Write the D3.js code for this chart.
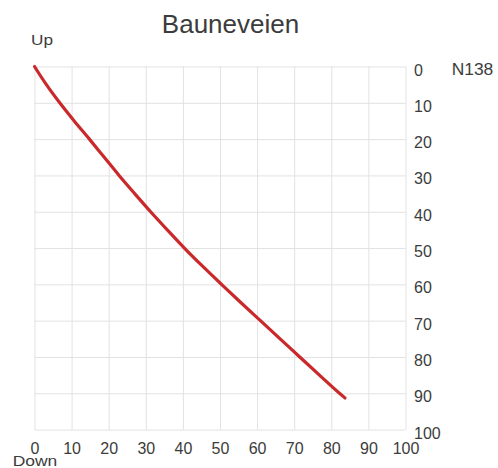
<!DOCTYPE html>
<html>
<head>
<meta charset="utf-8">
<script src="https://cdn.jsdelivr.net/npm/d3@7"></script>
<style>
  html, body { margin: 0; padding: 0; background: #ffffff; }
  svg { display: block; }
  text { font-family: "Liberation Sans", Arial, sans-serif; fill: #3c3c3c; }
</style>
</head>
<body>
<svg id="chart" width="498" height="468"></svg>
<script>
// ---- data ----
const title = "Bauneveien";
const depth = [0, 5, 10, 15, 20, 25, 30, 35, 40, 45, 50, 55, 60, 65, 70, 75, 80, 85, 90, 91.3];
const displacement = [0, 3.2, 6.8, 10.7, 14.8, 18.8, 22.8, 27, 31.3, 35.8, 40.4, 45.3, 50.4, 55.6, 60.9, 66.2, 71.5, 76.8, 82.2, 83.7];
const xTicks = [0, 10, 20, 30, 40, 50, 60, 70, 80, 90, 100];
const yTicks = [0, 10, 20, 30, 40, 50, 60, 70, 80, 90, 100];
const topLabel = "Up";
const bottomLabel = "Down";
const seriesName = "N138";

// ---- layout ----
const svg = d3.select("#chart");
const plotLeft = 34.5, plotRight = 405.5, plotTop = 66.5, plotBottom = 429.6;
const x = d3.scaleLinear().domain([0, 100]).range([plotLeft, plotRight]);
const y = d3.scaleLinear().domain([0, 100]).range([plotTop, plotBottom]);

// grid
const grid = svg.append("g");
grid.append("g")
  .attr("transform", `translate(0,${plotBottom})`)
  .call(d3.axisBottom(x).tickValues(xTicks).tickSize(-(plotBottom - plotTop)).tickFormat(""))
  .call(g => g.select(".domain").remove())
  .call(g => g.selectAll("line").attr("stroke", "#e2e2e2").attr("stroke-width", 1));
grid.append("g")
  .attr("transform", `translate(${plotLeft},0)`)
  .call(d3.axisLeft(y).tickValues(yTicks).tickSize(-(plotRight - plotLeft)).tickFormat(""))
  .call(g => g.select(".domain").remove())
  .call(g => g.selectAll("line").attr("stroke", "#e2e2e2").attr("stroke-width", 1));

// bottom axis labels
svg.append("g")
  .attr("transform", `translate(0,${plotBottom})`)
  .call(d3.axisBottom(x).tickValues(xTicks).tickSize(0).tickPadding(13.5).tickFormat(d3.format("d")))
  .call(g => g.select(".domain").remove())
  .call(g => g.selectAll("text")
    .attr("font-size", 16)
    .style("font-family", "'Liberation Sans', Arial, sans-serif")
    .attr("fill", "#3c3c3c"));

// right axis labels
svg.append("g")
  .attr("transform", `translate(${plotRight},0)`)
  .call(d3.axisRight(y).tickValues(yTicks).tickSize(0).tickPadding(8.5).tickFormat(d3.format("d")))
  .call(g => g.select(".domain").remove())
  .call(g => g.selectAll("text")
    .attr("font-size", 16)
    .attr("dy", 0)
    .attr("y", 8.5)
    .style("font-family", "'Liberation Sans', Arial, sans-serif")
    .attr("fill", "#3c3c3c"));

// line
const pts = depth.map((d, i) => [displacement[i], d]);
svg.append("path")
  .datum(pts)
  .attr("fill", "none")
  .attr("stroke", "#c9292b")
  .attr("stroke-width", 3.2)
  .attr("stroke-linecap", "round")
  .attr("stroke-linejoin", "round")
  .attr("d", d3.line().x(d => x(d[0])).y(d => y(d[1])).curve(d3.curveMonotoneY));

// texts
svg.append("text").attr("x", 230.5).attr("y", 33).attr("text-anchor", "middle")
  .attr("font-size", 26).attr("fill", "#333").text(title);
svg.append("text").attr("x", 31).attr("y", 45).attr("font-size", 14)
  .attr("textLength", 22).attr("lengthAdjust", "spacingAndGlyphs").text(topLabel);
svg.append("text").attr("x", 12.7).attr("y", 466).attr("font-size", 15.5)
  .attr("textLength", 44.6).attr("lengthAdjust", "spacingAndGlyphs").text(bottomLabel);
svg.append("text").attr("x", 451.7).attr("y", 75).attr("font-size", 16)
  .attr("textLength", 41.6).attr("lengthAdjust", "spacingAndGlyphs").text(seriesName);
</script>
</body>
</html>
